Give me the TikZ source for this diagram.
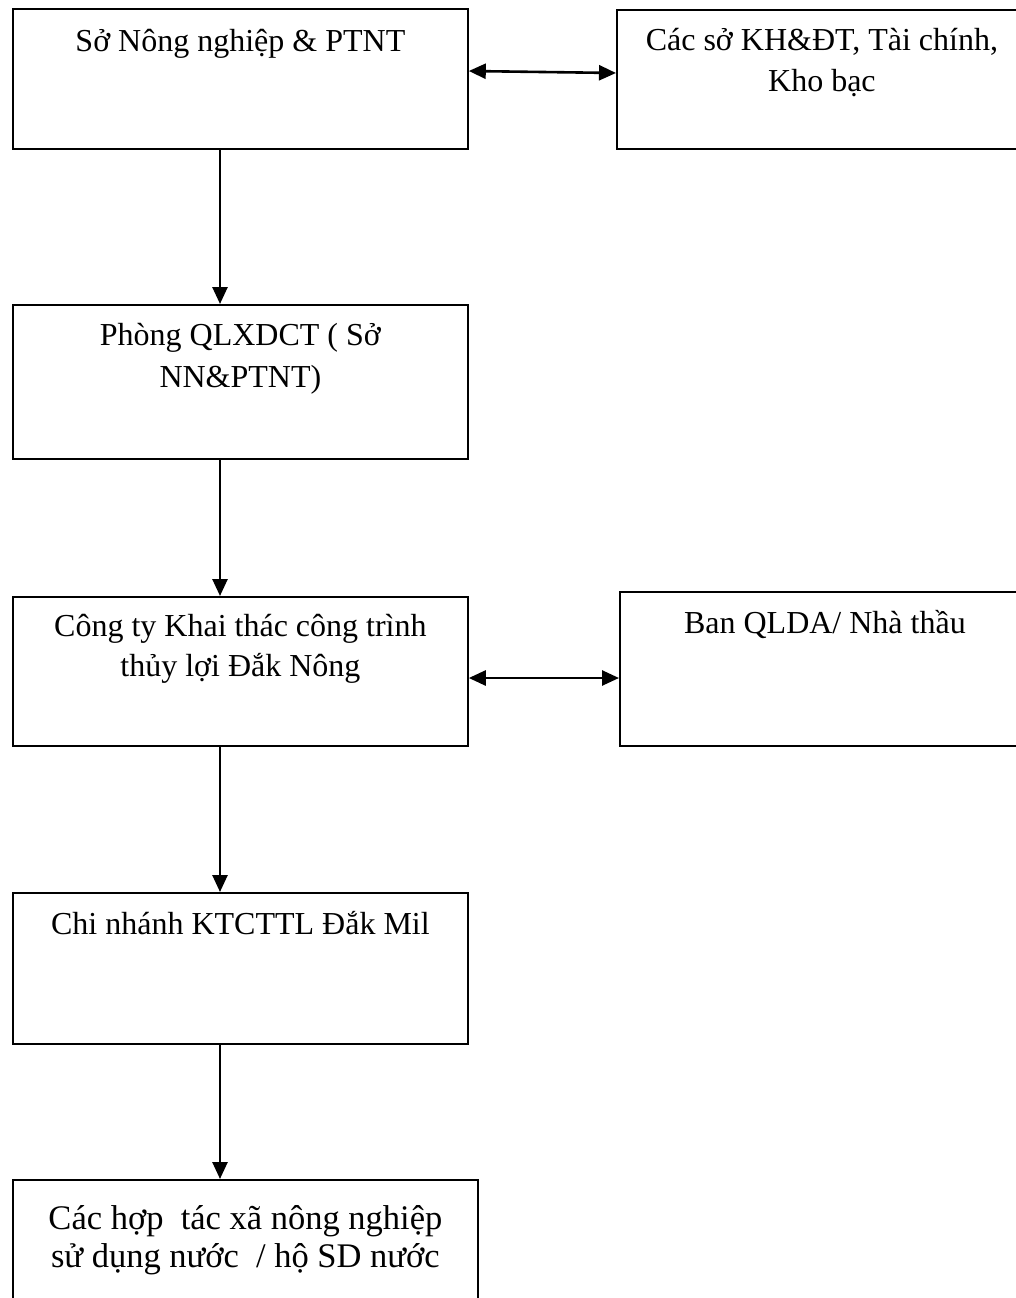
\documentclass[tikz,border=0pt]{standalone}
\usepackage{fontspec}
\setmainfont{Liberation Serif}
\usetikzlibrary{arrows.meta,calc}
\begin{document}
\begin{tikzpicture}[x=1pt,y=-1pt,
  box/.style={draw=black, line width=1.8pt, rectangle, anchor=north west, inner sep=0pt},
  txt/.style={font=\fontsize{32}{40}\selectfont, align=center, anchor=base, inner sep=0pt},
  conn/.style={line width=2.6pt, -{Triangle[length=17pt,width=15pt]}},
  dbl/.style={line width=2.6pt, {Triangle[length=17pt,width=15pt]}-{Triangle[length=17pt,width=15pt]}}
]
\useasboundingbox (0,0) rectangle (1016,1298);
\fill[white] (0,0) rectangle (1016,1298);
\clip (0,0) rectangle (1016,1298);

% boxes
\node[box, minimum width=455pt, minimum height=140pt] (n1) at (12,8) {};
\node[box, minimum width=410pt, minimum height=139pt] (n2) at (616,9) {};
\node[box, minimum width=455pt, minimum height=154pt] (n3) at (12,304) {};
\node[box, minimum width=455pt, minimum height=149pt] (n4) at (12,596) {};
\node[box, minimum width=410pt, minimum height=154pt] (n5) at (619,591) {};
\node[box, minimum width=455pt, minimum height=151pt] (n6) at (12,892) {};
\node[box, minimum width=465pt, minimum height=160pt] (n7) at (12,1179) {};

% texts (base anchor = baseline of the last line)
\node[txt] (t1) at ($(n1.north)+(0,44)$) {Sở Nông nghiệp \& PTNT};
\node[txt] (t2) at ($(n2.north)+(0,82)$) {Các sở KH\&ĐT, Tài chính,\\Kho bạc};
\node[txt, font=\fontsize{32}{42}\selectfont] (t3) at ($(n3.north)+(0,83)$) {Phòng QLXDCT ( Sở\\NN\&PTNT)};
\node[txt] (t4) at ($(n4.north)+(0,80)$) {Công ty Khai thác công trình\\thủy lợi Đắk Nông};
\node[txt] (t5) at ($(n5.north)+(0,42)$) {Ban QLDA/ Nhà thầu};
\node[txt] (t6) at ($(n6.north)+(0,42)$) {Chi nhánh KTCTTL Đắk Mil};
\node[txt, font=\fontsize{34.5}{38}\selectfont] (t7) at ($(n7.north)+(0,88)$) {Các hợp\ \ tác xã nông nghiệp\\sử dụng nước\ \ / hộ SD nước};

% vertical connectors at x = 220
\coordinate (ax) at (220,0);
\draw[conn] (n1.south -| ax) -- (n3.north -| ax);
\draw[conn] (n3.south -| ax) -- (n4.north -| ax);
\draw[conn] (n4.south -| ax) -- (n6.north -| ax);
\draw[conn] (n6.south -| ax) -- (n7.north -| ax);

% horizontal two-way connectors
\draw[dbl] ([yshift=-63pt]n1.north east) -- ([yshift=-64pt]n2.north west);
\draw[dbl] ([yshift=-82pt]n4.north east) -- ([yshift=-87pt]n5.north west);
\end{tikzpicture}
\end{document}
